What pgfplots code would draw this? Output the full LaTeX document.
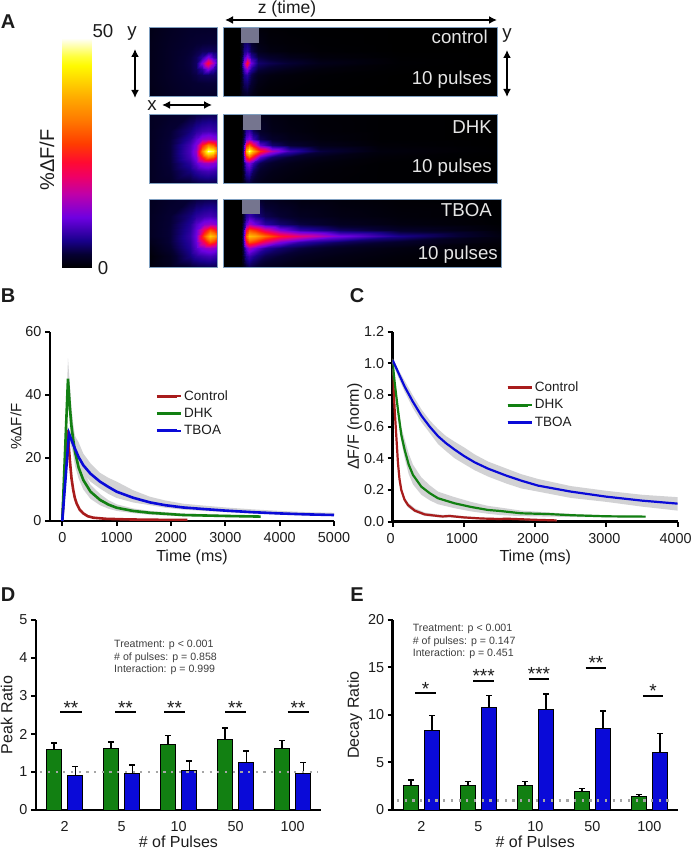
\documentclass[border=0pt]{standalone}
\usepackage{fontspec}
\setmainfont{Liberation Sans}
\usepackage{pgfplots}
\usepackage{pgfplotstable}
\pgfplotsset{compat=1.18}
\usepgfplotslibrary{fillbetween}
\usetikzlibrary{arrows.meta}

\definecolor{cred}{HTML}{A81C1C}
\definecolor{cgreen}{HTML}{128012}
\definecolor{cblue}{HTML}{0A0AD8}
\definecolor{band}{HTML}{D2D2D4}
\definecolor{frame}{HTML}{7F9FC0}
\definecolor{stim}{HTML}{75758F}
\definecolor{txt}{HTML}{1C1C1C}

\newcommand{\ticksize}{\fontsize{14.4}{17}\selectfont}
\newcommand{\labsize}{\fontsize{16}{18}\selectfont}
\newcommand{\statsize}{\fontsize{10.6}{12.5}\selectfont}

\tikzset{stars/.style={midway, above, font=\fontsize{19}{20}\selectfont, inner sep=0pt, yshift=-3pt, text=txt}}

\pgfplotsset{
  panel/.style={
    scale only axis, axis lines=left,
    axis line style={-, line width=2.6pt, black},
    tick style={line width=2pt, black},
    tick align=outside, major tick length=5pt,
    tick label style={font=\ticksize, text=txt},
    label style={font=\labsize, text=txt},
    xticklabel shift=3pt,
    /pgf/number format/assume math mode=true,
    /pgf/number format/1000 sep={},
    legend cell align=left,
    legend style={draw=none, fill=none, font=\fontsize{13.5}{16}\selectfont, text=txt, row sep=2.5pt},
    legend image code/.code={\draw[##1, line width=3pt] (0,0) -- (20pt,0); \path (0,0) -- (24pt,0);},
  },
  barpanel/.style={
    panel, width=284.7pt, height=190pt,
    xtick={0,1,2,3,4}, xticklabels={2,5,10,50,100},
    major x tick style={draw=none},
    xticklabel shift=3pt, xlabel shift=0pt,
    xlabel style={inner sep=1pt},
    ymin=0,
  },
  greenbar/.style={ybar, bar width=14.7pt, bar shift=-10.67pt, fill=cgreen, draw=black, line width=1pt,
    error bars/.cd, y dir=plus, y explicit,
    error bar style={line width=1.6pt, black, xshift=-10.67pt},
    error mark options={rotate=90, mark size=3pt, line width=1.6pt, black}},
  bluebar/.style={ybar, bar width=14.7pt, bar shift=10.67pt, fill=cblue, draw=black, line width=1pt,
    error bars/.cd, y dir=plus, y explicit,
    error bar style={line width=1.6pt, black, xshift=10.67pt},
    error mark options={rotate=90, mark size=3pt, line width=1.6pt, black}},
  sig/.style={black, line width=2pt, forget plot},
  unity/.style={draw=gray!70, line width=2.2pt, dash pattern=on 2.2pt off 5.5pt},
}

% panel B, columns: time, mean, lower, upper edge of the band
\pgfplotstableread{
t y lo hi
0 0 0 0
100 28.8 27 30.5
120 23.5 22 25
141 19 18 20.5
170 13.5 12.5 14.8
202 9.8 9 10.8
230 7.4 6.8 8.2
263 5.6 5.1 6.3
320 3.6 3.2 4.1
387 2.4 2.1 2.8
470 1.5 1.3 1.9
571 1.05 .9 1.3
800 .7 .6 .9
1200 .5 .4 .7
1600 .4 .3 .55
2000 .35 .25 .45
2300 .3 .2 .4
}\bctrl
\pgfplotstableread{
t y lo hi
0 0 0 0
105 45.2 39 51.6
140 36 30 43
170 30 25 36
200 26 21 31
234 22 17.5 27
300 17 13.5 21
387 13 10 16
520 9.3 7 11.5
694 6.7 5 8.6
850 5.2 3.9 6.6
1001 4.2 3.2 5.3
1300 3.2 2.5 4
1614 2.6 2 3.2
2222 1.9 1.5 2.4
3000 1.6 1.2 2
3650 1.4 1.1 1.7
}\bdhk
\pgfplotstableread{
t y lo hi
0 0 0 0
123 27.8 26 29
200 24.3 21.5 28
300 20.3 18 25
387 17.7 15 21.4
520 15 12.5 18.3
694 12.5 10.3 15.3
850 10.8 8.6 13.7
1001 9.3 7.3 12.5
1300 7.4 5.9 9.8
1614 5.9 5 7.7
1900 5 4.2 6.5
2222 4.3 3.6 5.5
2600 3.8 3.2 4.9
3000 3.3 2.8 4.3
3500 2.8 2.3 3.7
4000 2.4 2 3.2
4500 2.1 1.75 2.8
5000 1.9 1.6 2.6
}\btboa

% panel C
\pgfplotstableread{
t y lo hi
0 .95 .93 .97
28 .705 .69 .72
51 .537 .52 .555
74 .37 .355 .385
95 .27 .255 .285
121 .2 .185 .215
165 .14 .125 .155
215 .105 .09 .12
309 .07 .06 .085
449 .046 .036 .058
636 .036 .028 .046
700 .033 .025 .043
800 .036 .028 .045
1000 .027 .02 .035
1250 .02 .014 .027
1500 .017 .012 .023
1600 .019 .013 .024
2000 .012 .008 .017
2300 .008 .005 .012
}\cctrl
\pgfplotstableread{
t y lo hi
0 1.0 .99 1.01
30 .87 .85 .89
74 .705 .67 .74
120 .55 .51 .60
168 .453 .40 .52
225 .36 .30 .43
285 .295 .235 .36
402 .221 .17 .28
520 .18 .135 .23
636 .148 .11 .19
870 .116 .085 .155
1100 .093 .065 .125
1338 .074 .05 .10
1500 .068 .042 .09
1805 .053 .035 .07
2200 .048 .032 .058
2500 .041 .03 .05
3000 .034 .028 .04
3550 .032 .028 .035
}\cdhk
\pgfplotstableread{
t y lo hi
0 1.02 1.0 1.03
80 .94 .91 .96
168 .853 .82 .89
280 .76 .72 .80
402 .67 .63 .71
520 .6 .56 .64
636 .54 .49 .585
750 .495 .445 .54
870 .455 .40 .505
1000 .415 .365 .47
1150 .375 .325 .425
1338 .335 .285 .38
1600 .29 .24 .335
1805 .259 .21 .30
2039 .228 .19 .27
2500 .19 .15 .225
3000 .158 .125 .195
3500 .133 .095 .17
4000 .114 .07 .155
}\ctboa

% panels D and E: group, green mean, green sem, blue mean, blue sem
\pgfplotstableread{
x g ge b be
0 1.58 .18 .92 .22
1 1.61 .18 .97 .21
2 1.72 .24 1.04 .25
3 1.86 .30 1.25 .31
4 1.61 .22 .95 .30
}\peakdata
\pgfplotstableread{
x g ge b be
0 2.60 .56 8.35 1.61
1 2.56 .46 10.84 1.23
2 2.63 .39 10.53 1.67
3 1.96 .29 8.56 1.86
4 1.47 .18 6.00 2.04
}\decaydata

\pgfplotsset{
  colormap={fire}{
    rgb255(0)=(0,0,0) rgb255(3)=(5,0,50) rgb255(6)=(25,0,140) rgb255(11)=(110,0,225)
    rgb255(16)=(190,0,170) rgb255(20)=(240,0,100) rgb255(23)=(255,10,50) rgb255(27)=(255,60,0)
    rgb255(32)=(255,120,0) rgb255(37)=(255,170,0) rgb255(44)=(255,250,0) rgb255(46)=(255,255,60)
    rgb255(50)=(255,255,255)
  },
  heat/.style={surf, shader=interp, point meta=explicit, forget plot},
}

\begin{document}
\begin{tikzpicture}[x=1pt,y=1pt]

% ---- panel A, data in picture pixels
\begin{axis}[
  at={(0pt,0pt)}, anchor=south west, scale only axis, width=692pt, height=853pt,
  xmin=0, xmax=692, ymin=0, ymax=853, y dir=reverse, hide axis,
  colormap name=fire, point meta min=0, point meta max=50,
]
% colour scale
\addplot[heat, mesh/cols=2] coordinates {
(62,268)[0] (91,268)[0] (62,245)[5] (91,245)[5] (62,222)[10] (91,222)[10] (62,199)[15] (91,199)[15]
(62,176)[20] (91,176)[20] (62,153)[25] (91,153)[25] (62,130)[30] (91,130)[30] (62,107)[35] (91,107)[35]
(62,84)[40] (91,84)[40] (62,61)[45] (91,61)[45] (62,38)[50] (91,38)[50]
};
% control x-y
\addplot[heat, mesh/cols=8] coordinates {
(149,27)[1.3] (170,27)[2] (190,27)[2.5] (196,27)[2.5] (202,27)[2.5] (208,27)[2.5] (213,27)[2.5] (217,27)[2.5]
(149,43)[1.5] (170,43)[2.2] (190,43)[2.8] (196,43)[3] (202,43)[3.1] (208,43)[3.2] (213,43)[3.2] (217,43)[3.1]
(149,51)[1.5] (170,51)[2.3] (190,51)[3.1] (196,51)[3.6] (202,51)[4.3] (208,51)[4.5] (213,51)[4.4] (217,51)[4]
(149,57)[1.5] (170,57)[2.3] (190,57)[3.3] (196,57)[4.3] (202,57)[7] (208,57)[12] (213,57)[8] (217,57)[5.5]
(149,63)[1.5] (170,63)[2.3] (190,63)[3.4] (196,63)[4.5] (202,63)[12] (208,63)[23] (213,63)[15] (217,63)[7.5]
(149,69)[1.5] (170,69)[2.3] (190,69)[3.3] (196,69)[4.3] (202,69)[7] (208,69)[12] (213,69)[8] (217,69)[5.5]
(149,75)[1.5] (170,75)[2.3] (190,75)[3.1] (196,75)[3.6] (202,75)[4.3] (208,75)[4.5] (213,75)[4.4] (217,75)[4]
(149,83)[1.5] (170,83)[2.2] (190,83)[2.8] (196,83)[3] (202,83)[3.1] (208,83)[3.2] (213,83)[3.2] (217,83)[3.1]
(149,96)[1.3] (170,96)[2] (190,96)[2.5] (196,96)[2.5] (202,96)[2.5] (208,96)[2.5] (213,96)[2.5] (217,96)[2.5]
};
% control x-time
\addplot[heat, mesh/cols=12] coordinates {
(223,27)[0] (239,27)[0] (241,27)[1] (244,27)[2] (247,27)[2.5] (251,27)[1.5] (258,27)[.6] (270,27)[.3] (290,27)[.2] (320,27)[.1] (400,27)[0] (497,27)[0]
(223,43)[0] (239,43)[0] (241,43)[1.5] (244,43)[4.5] (247,43)[5] (251,43)[3] (258,43)[1.2] (270,43)[.6] (290,43)[.4] (320,43)[.2] (400,43)[0] (497,43)[0]
(223,51)[0] (239,51)[0] (241,51)[1.5] (244,51)[6] (247,51)[7] (251,51)[4] (258,51)[1.8] (270,51)[1] (290,51)[.6] (320,51)[.3] (400,51)[0] (497,51)[0]
(223,57)[0] (239,57)[0] (241,57)[2] (244,57)[9] (247,57)[13] (251,57)[7] (258,57)[3.5] (270,57)[2.5] (290,57)[1.5] (320,57)[.7] (400,57)[.1] (497,57)[0]
(223,63)[0] (239,63)[0] (241,63)[2.5] (244,63)[14] (247,63)[24] (251,63)[11] (258,63)[5] (270,63)[4] (290,63)[3] (320,63)[1.5] (400,63)[.2] (497,63)[0]
(223,69)[0] (239,69)[0] (241,69)[2] (244,69)[9] (247,69)[13] (251,69)[7] (258,69)[3.5] (270,69)[2.5] (290,69)[1.5] (320,69)[.7] (400,69)[.1] (497,69)[0]
(223,75)[0] (239,75)[0] (241,75)[1.5] (244,75)[6] (247,75)[7] (251,75)[4] (258,75)[1.8] (270,75)[1] (290,75)[.6] (320,75)[.3] (400,75)[0] (497,75)[0]
(223,83)[0] (239,83)[0] (241,83)[1.5] (244,83)[4.5] (247,83)[5] (251,83)[3] (258,83)[1.2] (270,83)[.6] (290,83)[.4] (320,83)[.2] (400,83)[0] (497,83)[0]
(223,96)[0] (239,96)[0] (241,96)[1] (244,96)[2] (247,96)[2.5] (251,96)[1.5] (258,96)[.6] (270,96)[.3] (290,96)[.2] (320,96)[.1] (400,96)[0] (497,96)[0]
};
% DHK x-y
\addplot[heat, mesh/cols=8] coordinates {
(149,114)[2] (170,114)[2.5] (190,114)[3] (196,114)[3.5] (202,114)[3.8] (208,114)[4] (213,114)[4] (217,114)[4]
(149,131)[2] (170,131)[3] (190,131)[5.5] (196,131)[7] (202,131)[8] (208,131)[8.5] (213,131)[8] (217,131)[7.5]
(149,139)[2] (170,139)[3.2] (190,139)[7] (196,139)[10] (202,139)[13] (208,139)[14] (213,139)[13] (217,139)[11.5]
(149,145)[2] (170,145)[3.3] (190,145)[8.5] (196,145)[12] (202,145)[24.5] (208,145)[33] (213,145)[30] (217,145)[22]
(149,151)[2] (170,151)[3.3] (190,151)[9] (196,151)[13.5] (202,151)[33] (208,151)[49] (213,151)[46] (217,151)[34]
(149,157)[2] (170,157)[3.3] (190,157)[8.5] (196,157)[12] (202,157)[24.5] (208,157)[33] (213,157)[30] (217,157)[22]
(149,163)[2] (170,163)[3.2] (190,163)[7] (196,163)[10] (202,163)[13] (208,163)[14] (213,163)[13] (217,163)[11.5]
(149,171)[2] (170,171)[3] (190,171)[5.5] (196,171)[7] (202,171)[8] (208,171)[8.5] (213,171)[8] (217,171)[7.5]
(149,183)[2] (170,183)[2.5] (190,183)[3] (196,183)[3.5] (202,183)[3.8] (208,183)[4] (213,183)[4] (217,183)[4]
};
% DHK x-time
\addplot[heat, mesh/cols=12] coordinates {
(223,114)[0] (241,114)[0] (243,114)[1] (246,114)[3] (249,114)[3.5] (253,114)[2.5] (260,114)[1.5] (272,114)[1] (290,114)[.7] (320,114)[.4] (380,114)[.2] (497,114)[0]
(223,131)[0] (241,131)[0] (243,131)[2] (246,131)[7] (249,131)[8] (253,131)[4.5] (260,131)[2.5] (272,131)[1.5] (290,131)[1] (320,131)[.5] (380,131)[.2] (497,131)[0]
(223,139)[0] (241,139)[0] (243,139)[3] (246,139)[10] (249,139)[12] (253,139)[8] (260,139)[4] (272,139)[2.5] (290,139)[1.5] (320,139)[.8] (380,139)[.2] (497,139)[0]
(223,145)[0] (241,145)[0] (243,145)[4] (246,145)[24] (249,145)[30] (253,145)[22] (260,145)[10] (272,145)[5] (290,145)[3] (320,145)[1.5] (380,145)[.4] (497,145)[0]
(223,151)[0] (241,151)[0] (243,151)[5] (246,151)[38] (249,151)[48] (253,151)[38] (260,151)[26] (272,151)[15] (290,151)[8] (320,151)[3.5] (380,151)[.8] (497,151)[.1]
(223,157)[0] (241,157)[0] (243,157)[4] (246,157)[24] (249,157)[30] (253,157)[22] (260,157)[10] (272,157)[5] (290,157)[3] (320,157)[1.5] (380,157)[.4] (497,157)[0]
(223,163)[0] (241,163)[0] (243,163)[3] (246,163)[10] (249,163)[12] (253,163)[8] (260,163)[4] (272,163)[2.5] (290,163)[1.5] (320,163)[.8] (380,163)[.2] (497,163)[0]
(223,171)[0] (241,171)[0] (243,171)[2] (246,171)[7] (249,171)[8] (253,171)[4.5] (260,171)[2.5] (272,171)[1.5] (290,171)[1] (320,171)[.5] (380,171)[.2] (497,171)[0]
(223,183)[0] (241,183)[0] (243,183)[1] (246,183)[3] (249,183)[3.5] (253,183)[2.5] (260,183)[1.5] (272,183)[1] (290,183)[.7] (320,183)[.4] (380,183)[.2] (497,183)[0]
};
% TBOA x-y
\addplot[heat, mesh/cols=8] coordinates {
(149,199)[1.8] (170,199)[2.5] (190,199)[3] (196,199)[3.5] (204,199)[3.8] (210,199)[4] (214,199)[4] (217,199)[3.8]
(149,216)[2] (170,216)[3] (190,216)[5.5] (196,216)[7] (204,216)[8] (210,216)[8.5] (214,216)[8] (217,216)[7.5]
(149,224)[2] (170,224)[3.1] (190,224)[6.5] (196,224)[9.5] (204,224)[12.5] (210,224)[13.5] (214,224)[13] (217,224)[11.5]
(149,230)[2] (170,230)[3.2] (190,230)[7] (196,230)[10.5] (204,230)[21] (210,230)[29] (214,230)[26] (217,230)[21]
(149,236)[2] (170,236)[3.2] (190,236)[7.5] (196,236)[11] (204,236)[29] (210,236)[40] (214,236)[37] (217,236)[32]
(149,242)[1.5] (170,242)[3.2] (190,242)[7] (196,242)[10.5] (204,242)[21] (210,242)[29] (214,242)[26] (217,242)[21]
(149,248)[1] (170,248)[2.8] (190,248)[6.5] (196,248)[9.5] (204,248)[12.5] (210,248)[13.5] (214,248)[13] (217,248)[11.5]
(149,256)[.5] (170,256)[2] (190,256)[5.5] (196,256)[7] (204,256)[8] (210,256)[8.5] (214,256)[8] (217,256)[7.5]
(149,267)[.8] (170,267)[1.8] (190,267)[3] (196,267)[3.5] (204,267)[3.8] (210,267)[4] (214,267)[4] (217,267)[3.8]
};
% TBOA x-time
\addplot[heat, mesh/cols=12] coordinates {
(223,199)[0] (241,199)[0] (243,199)[1] (246,199)[3] (249,199)[4] (255,199)[3] (265,199)[2] (280,199)[1.5] (300,199)[1] (340,199)[.7] (400,199)[.3] (501,199)[.1]
(223,216)[0] (241,216)[0] (243,216)[2.5] (246,216)[6.5] (249,216)[8] (255,216)[6] (265,216)[4] (280,216)[3] (300,216)[2] (340,216)[1.2] (400,216)[.6] (501,216)[.1]
(223,224)[0] (241,224)[0] (243,224)[3.5] (246,224)[10] (249,224)[14] (255,224)[11] (265,224)[7] (280,224)[5] (300,224)[3.5] (340,224)[2] (400,224)[1] (501,224)[.2]
(223,230)[0] (241,230)[0] (243,230)[5] (246,230)[22] (249,230)[29] (255,230)[26] (265,230)[19] (280,230)[12] (300,230)[7.5] (340,230)[4.5] (400,230)[2.5] (501,230)[.5]
(223,236)[0] (241,236)[0] (243,236)[6] (246,236)[30] (249,236)[39] (255,236)[37] (265,236)[31] (280,236)[24] (300,236)[19] (340,236)[11.5] (400,236)[6] (501,236)[1]
(223,242)[0] (241,242)[0] (243,242)[5] (246,242)[22] (249,242)[29] (255,242)[26] (265,242)[19] (280,242)[12] (300,242)[7.5] (340,242)[4.5] (400,242)[2.5] (501,242)[.5]
(223,248)[0] (241,248)[0] (243,248)[3.5] (246,248)[10] (249,248)[14] (255,248)[11] (265,248)[7] (280,248)[5] (300,248)[3.5] (340,248)[2] (400,248)[1] (501,248)[.2]
(223,256)[0] (241,256)[0] (243,256)[2.5] (246,256)[6.5] (249,256)[8] (255,256)[6] (265,256)[4] (280,256)[3] (300,256)[2] (340,256)[1.2] (400,256)[.6] (501,256)[.1]
(223,267)[0] (241,267)[0] (243,267)[1] (246,267)[3] (249,267)[4] (255,267)[3] (265,267)[2] (280,267)[1.5] (300,267)[1] (340,267)[.7] (400,267)[.3] (501,267)[.1]
};
\end{axis}

% frames and stimulus boxes of the images
\foreach \xa/\xb/\ya/\yb in {149/217/27/96, 223/497/27/96, 149/217/114/183, 223/497/114/183, 149/217/199/267, 223/501/199/267}
  \draw[frame, line width=0.8pt] (\xa,853-\ya) rectangle (\xb,853-\yb);
\fill[stim] (241,853-28) rectangle (259,853-43);
\fill[stim] (243,853-115) rectangle (261,853-130);
\fill[stim] (242,853-200) rectangle (260,853-214);

\begin{scope}[every node/.style={font=\fontsize{18.7}{20}\selectfont, inner sep=0pt}]
\node[white!90!black, anchor=east] at (488,853-37) {control};
\node[white!90!black, anchor=east] at (492,853-80) {10 pulses};
\node[white!90!black, anchor=east] at (492,853-127) {DHK};
\node[white!90!black, anchor=east] at (492,853-168) {10 pulses};
\node[white!90!black, anchor=east] at (492,853-210) {TBOA};
\node[white!90!black, anchor=east] at (498,853-255) {10 pulses};
\node[txt] at (103,853-31) {50};
\node[txt] at (103,853-268) {0};
\node[txt, rotate=90, font=\fontsize{20}{22}\selectfont] at (47,853-160) {\%ΔF/F};
\node[txt, font=\fontsize{17.5}{19}\selectfont] at (287,853-9) {z (time)};
\node[txt] at (132,853-34) {y};
\node[txt] at (152,853-106) {x};
\node[txt] at (507,853-36) {y};
\end{scope}
\begin{scope}[black, line width=1.6pt, {Latex[length=8pt,width=8pt]}-{Latex[length=8pt,width=8pt]}]
\draw (225,853-20) -- (497,853-20);
\draw (135,853-49) -- (135,853-98);
\draw (162,853-105) -- (212,853-105);
\draw (507,853-50) -- (507,853-97);
\end{scope}

\begin{scope}[every node/.style={font=\bfseries\fontsize{20}{22}\selectfont, inner sep=0pt, text=txt}]
\node at (8,853-22) {A};
\node at (8,853-296) {B};
\node at (357,853-296) {C};
\node at (8,853-595) {D};
\node at (357,853-595) {E};
\end{scope}

% ---- panel B
\begin{axis}[
  panel, at={(50pt,332pt)}, anchor=south west, width=284pt, height=189pt,
  xmin=-226, xmax=5000, ymin=0, ymax=60,
  xtick={0,1000,2000,3000,4000,5000}, ytick={0,20,40,60},
  xlabel={Time (ms)}, ylabel={\%ΔF/F}, ylabel shift=-3pt,
  ylabel style={font=\fontsize{15}{17}\selectfont},
  legend style={at={(0.36,0.713)}, anchor=north west},
]
\addplot[draw=none, name path=cl, forget plot] table[x=t,y=lo] {\bctrl};
\addplot[draw=none, name path=ch, forget plot] table[x=t,y=hi] {\bctrl};
\addplot[band, forget plot] fill between[of=cl and ch];
\addplot[draw=none, name path=dl, forget plot] table[x=t,y=lo] {\bdhk};
\addplot[draw=none, name path=dh, forget plot] table[x=t,y=hi] {\bdhk};
\addplot[band, forget plot] fill between[of=dl and dh];
\addplot[draw=none, name path=tl, forget plot] table[x=t,y=lo] {\btboa};
\addplot[draw=none, name path=th, forget plot] table[x=t,y=hi] {\btboa};
\addplot[band, forget plot] fill between[of=tl and th];
\addplot[cred, line width=2.6pt] table[x=t,y=y] {\bctrl};
\addlegendentry{Control}
\addplot[cgreen, line width=2.6pt] table[x=t,y=y] {\bdhk};
\addlegendentry{DHK}
\addplot[cblue, line width=2.6pt] table[x=t,y=y] {\btboa};
\addlegendentry{TBOA}
\end{axis}

% ---- panel C
\begin{axis}[
  panel, at={(392.7pt,331.3pt)}, anchor=south west, width=285pt, height=190pt,
  xmin=0, xmax=4000, ymin=0, ymax=1.2,
  xtick={0,1000,2000,3000,4000}, ytick={0,0.2,0.4,0.6,0.8,1.0,1.2},
  xticklabel style={xshift=-2pt},
  yticklabel style={/pgf/number format/fixed, /pgf/number format/fixed zerofill, /pgf/number format/precision=1},
  xlabel={Time (ms)}, ylabel={ΔF/F (norm)}, ylabel shift=-5pt,
  legend style={at={(0.387,0.758)}, anchor=north west},
]
\addplot[draw=none, name path=cl, forget plot] table[x=t,y=lo] {\cctrl};
\addplot[draw=none, name path=ch, forget plot] table[x=t,y=hi] {\cctrl};
\addplot[band, forget plot] fill between[of=cl and ch];
\addplot[draw=none, name path=dl, forget plot] table[x=t,y=lo] {\cdhk};
\addplot[draw=none, name path=dh, forget plot] table[x=t,y=hi] {\cdhk};
\addplot[band, forget plot] fill between[of=dl and dh];
\addplot[draw=none, name path=tl, forget plot] table[x=t,y=lo] {\ctboa};
\addplot[draw=none, name path=th, forget plot] table[x=t,y=hi] {\ctboa};
\addplot[band, forget plot] fill between[of=tl and th];
\addplot[cred, line width=2.2pt] table[x=t,y=y] {\cctrl};
\addlegendentry{Control}
\addplot[cgreen, line width=2.2pt] table[x=t,y=y] {\cdhk};
\addlegendentry{DHK}
\addplot[cblue, line width=2.2pt] table[x=t,y=y] {\ctboa};
\addlegendentry{TBOA}
\end{axis}

% ---- panel D
\begin{axis}[
  barpanel, at={(36pt,43pt)}, anchor=south west,
  xmin=-0.503, xmax=4.492, ymax=5, ytick={0,1,2,3,4,5},
  xlabel={\# of Pulses}, ylabel={Peak Ratio},
]
\addplot[greenbar] table[x=x,y=g,y error=ge] {\peakdata};
\addplot[bluebar] table[x=x,y=b,y error=be] {\peakdata};
\addplot[unity] coordinates {(-0.43,1) (4.44,1)};
\addplot[sig] coordinates {(-0.076,2.57) (0.298,2.57)} node[stars] {**};
\addplot[sig] coordinates {(0.883,2.57) (1.251,2.57)} node[stars] {**};
\addplot[sig] coordinates {(1.743,2.57) (2.111,2.57)} node[stars] {**};
\addplot[sig] coordinates {(2.813,2.57) (3.181,2.57)} node[stars] {**};
\addplot[sig] coordinates {(3.912,2.57) (4.280,2.57)} node[stars] {**};
\end{axis}
\node[anchor=west, align=left, font=\statsize, text=txt!85!white, inner sep=0pt] at (114,853-657.7)
  {Treatment: p < 0.001\\\# of pulses: p = 0.858\\Interaction: p = 0.999};

% ---- panel E
\begin{axis}[
  barpanel, at={(392.7pt,43pt)}, anchor=south west, width=285pt,
  xmin=-0.505, xmax=4.495, ymax=20, ytick={0,5,10,15,20},
  xlabel={\# of Pulses}, ylabel={Decay Ratio}, ylabel shift=-1pt,
]
\addplot[greenbar] table[x=x,y=g,y error=ge] {\decaydata};
\addplot[bluebar] table[x=x,y=b,y error=be] {\decaydata};
\addplot[unity] coordinates {(-0.43,1) (4.35,1)};
\addplot[sig] coordinates {(-0.108,12.28) (0.254,12.28)} node[stars] {*};
\addplot[sig] coordinates {(0.909,13.58) (1.272,13.58)} node[stars] {***};
\addplot[sig] coordinates {(1.880,13.79) (2.243,13.79)} node[stars] {***};
\addplot[sig] coordinates {(2.880,14.95) (3.242,14.95)} node[stars] {**};
\addplot[sig] coordinates {(3.882,12.0) (4.245,12.0)} node[stars] {*};
\end{axis}
\node[anchor=west, align=left, font=\statsize, text=txt!85!white, inner sep=0pt] at (412.7,853-641.5)
  {Treatment: p < 0.001\\\# of pulses: p = 0.147\\Interaction: p = 0.451};

\pgfresetboundingbox
\path[use as bounding box] (0,0) rectangle (692,853);
\end{tikzpicture}
\end{document}
